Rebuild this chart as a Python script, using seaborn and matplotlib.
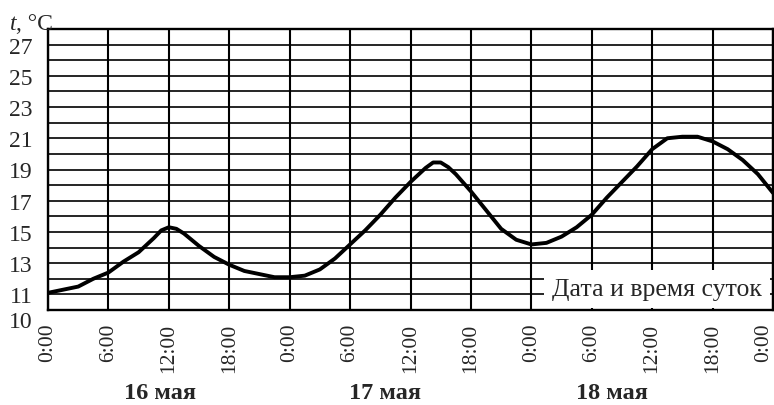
import numpy as np
import matplotlib
matplotlib.use("Agg")
import matplotlib.pyplot as plt
import seaborn as sns

# readings (hours from 16 May 0:00) and temperature, °C
hours_day1 = [0, 1.5, 3, 4.5, 6, 7.5, 9, 10.5, 11.25, 12, 12.75, 13.5, 15, 16.5, 18, 19.5, 21, 22.5]
temp_day1 = [11.1, 11.3, 11.5, 12.0, 12.4, 13.1, 13.7, 14.6, 15.1, 15.3, 15.2, 14.9, 14.1, 13.4, 12.9, 12.5, 12.3, 12.1]
hours_day2 = [24, 25.5, 27, 28.5, 30, 31.5, 33, 34.5, 36, 37.5, 38.25, 39, 39.75, 40.5, 42, 43.5, 45, 46.5]
temp_day2 = [12.1, 12.2, 12.6, 13.3, 14.2, 15.1, 16.1, 17.2, 18.2, 19.1, 19.45, 19.45, 19.15, 18.7, 17.6, 16.4, 15.2, 14.5]
hours_day3 = [48, 49.5, 51, 52.5, 54, 55.5, 57, 58.5, 60, 61.5, 63, 64.5, 66, 67.5, 69, 70.5, 72]
temp_day3 = [14.2, 14.3, 14.7, 15.3, 16.1, 17.2, 18.2, 19.2, 20.3, 21.0, 21.1, 21.1, 20.8, 20.3, 19.6, 18.7, 17.5]

hours = hours_day1 + hours_day2 + hours_day3
temps = temp_day1 + temp_day2 + temp_day3

xtick_pos = [0, 6, 12, 18, 24, 30, 36, 42, 48, 54, 60, 66, 72]
xtick_labels = ["0:00", "6:00", "12:00", "18:00"] * 3 + ["0:00"]
ytick_pos = list(range(10, 28))
ytick_labels = [str(v) if (v == 10 or v % 2 == 1) else "" for v in ytick_pos]
day_names = ["16 мая", "17 мая", "18 мая"]
day_pos = [11.1, 33.5, 56.0]

sns.set_style("white")
plt.rcParams['font.family'] = ['Liberation Serif', 'DejaVu Serif']

fig = plt.figure(figsize=(7.74, 4.06), dpi=100)
ax = fig.add_axes([48 / 774, 1 - 311 / 406, 725 / 774, 281 / 406])

sns.lineplot(x=hours, y=temps, color="black", linewidth=2.8, ax=ax, zorder=5,
             solid_joinstyle="round", solid_capstyle="round")

ax.set_xlim(0, 72)
ax.set_ylim(10, 28)
ax.set_xticks(xtick_pos)
ax.set_xticklabels(xtick_labels, rotation=90, fontsize=15.5)
ax.set_yticks(ytick_pos)
ax.set_yticklabels(ytick_labels, fontsize=17)
ax.tick_params(axis="x", length=0, pad=9)
ax.tick_params(axis="y", length=5, width=1.1, color="black", direction="out", pad=6)
ax.set_xlabel("")
ax.set_ylabel("")

ax.xaxis.grid(True, color="black", linewidth=1.5)
ax.yaxis.grid(True, color="black", linewidth=1.2)
ax.set_axisbelow(True)

for side in ["left", "top", "bottom", "right"]:
    ax.spines[side].set_visible(True)
    ax.spines[side].set_color("black")
    ax.spines[side].set_linewidth(1.7)

# last tick label sits at the right edge: align it right so it stays visible
ax.get_xticklabels()[-1].set_horizontalalignment("right")
# "10" sits a bit below the axis line
import matplotlib.transforms as mtransforms
lab10 = ax.get_yticklabels()[0]
lab10.set_transform(lab10.get_transform() +
                    mtransforms.ScaledTranslation(0, -0.09, fig.dpi_scale_trans))

ax.text(70.9, 11.35, "Дата и время суток", ha="right", va="center", fontsize=18.5,
        zorder=6, bbox=dict(boxstyle="square,pad=0.3", fc="white", ec="none"))

for name, pos in zip(day_names, day_pos):
    ax.text(pos, -0.295, name, transform=ax.get_xaxis_transform(),
            ha="center", va="center", fontsize=17.5, fontweight="bold")

fig.text(10 / 774, 1 - 30 / 406, "t", fontsize=17, style="italic", va="baseline")
fig.text(16 / 774, 1 - 30 / 406, ", °C", fontsize=17, va="baseline")

fig.savefig("out.png", dpi=100, facecolor="white")
